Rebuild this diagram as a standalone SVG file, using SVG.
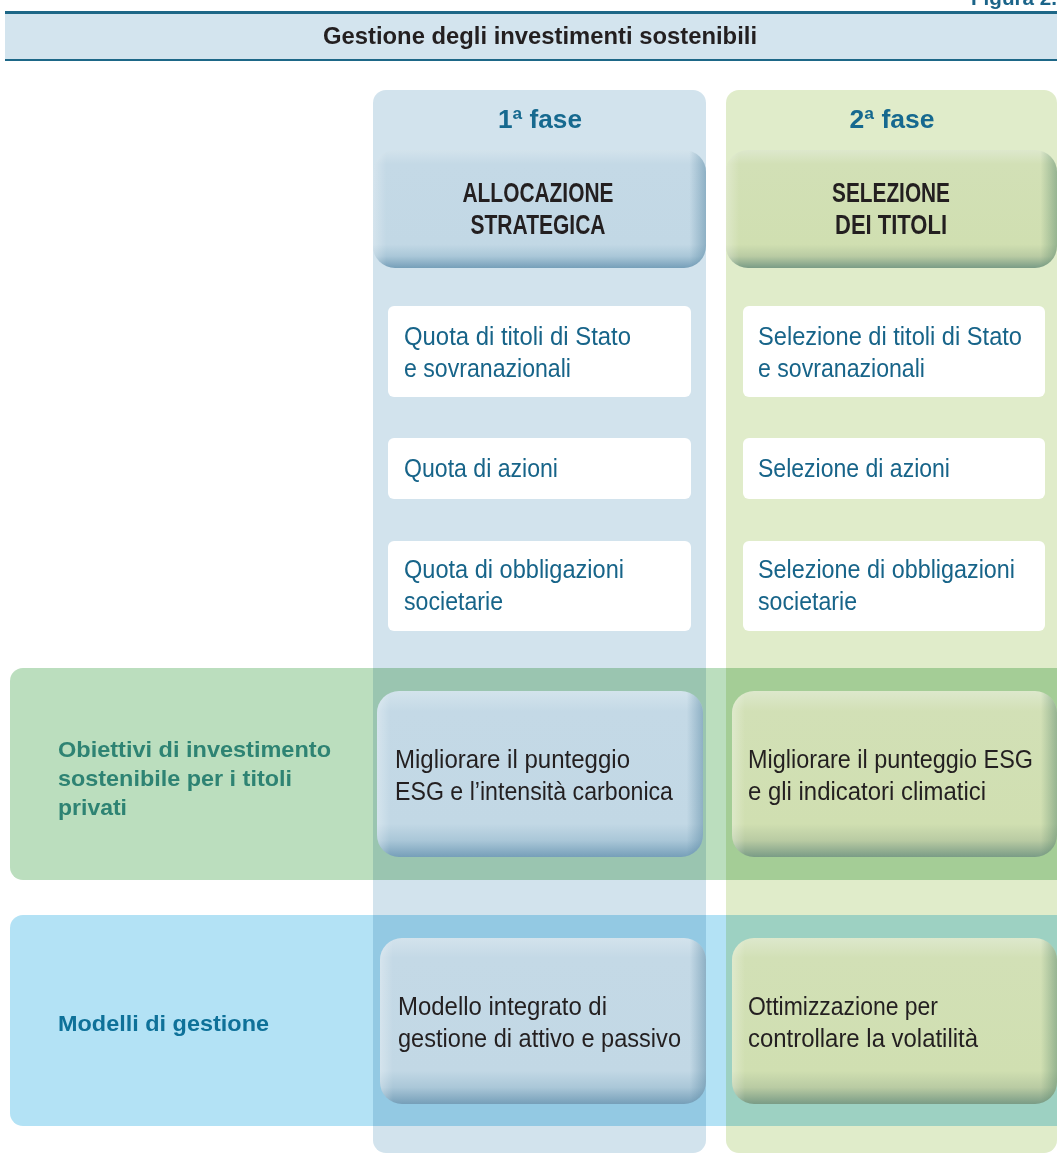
<svg xmlns="http://www.w3.org/2000/svg" width="1057" height="1176" viewBox="0 0 1057 1176">
<defs>
<linearGradient id="bV" x1="0" y1="0" x2="0" y2="1">
<stop offset="0" stop-color="#d3e3ec"/>
<stop offset="0.12" stop-color="#c4d9e6"/>
<stop offset="0.8" stop-color="#c2d8e5"/>
<stop offset="0.9" stop-color="#aac7d8"/>
<stop offset="1" stop-color="#769fb9"/>
</linearGradient>
<linearGradient id="gV" x1="0" y1="0" x2="0" y2="1">
<stop offset="0" stop-color="#dde8cc"/>
<stop offset="0.12" stop-color="#d2e0b6"/>
<stop offset="0.8" stop-color="#d0dfb1"/>
<stop offset="0.9" stop-color="#b9cba3"/>
<stop offset="1" stop-color="#7a9c86"/>
</linearGradient>
<linearGradient id="bH" x1="0" y1="0" x2="1" y2="0">
<stop offset="0" stop-color="#ffffff" stop-opacity="0.3"/>
<stop offset="0.04" stop-color="#ffffff" stop-opacity="0"/>
<stop offset="0.95" stop-color="#4d7f9c" stop-opacity="0"/>
<stop offset="1" stop-color="#4d7f9c" stop-opacity="0.45"/>
</linearGradient>
<linearGradient id="gH" x1="0" y1="0" x2="1" y2="0">
<stop offset="0" stop-color="#ffffff" stop-opacity="0.3"/>
<stop offset="0.04" stop-color="#ffffff" stop-opacity="0"/>
<stop offset="0.95" stop-color="#4f7f66" stop-opacity="0"/>
<stop offset="1" stop-color="#4f7f66" stop-opacity="0.45"/>
</linearGradient>
</defs>
<style>
.sans{font-family:"Liberation Sans",Arial,sans-serif;font-weight:bold}
.cond{font-family:"Liberation Sans Narrow","Liberation Sans",Arial,sans-serif}
.wbox{fill:#ffffff}
.wtxt{fill:#176489;font-size:25px}
.dtxt{fill:#231f20;font-size:25px}
.htxt{fill:#231f20;font-size:27px;font-weight:bold}
.fase{fill:#16698f;font-size:25px}
.lab{font-size:22.5px}
.mul{mix-blend-mode:multiply}
</style>
<rect width="1057" height="1176" fill="#ffffff"/>

<g id="header">
<text class="sans" x="971" y="5" font-size="20" fill="#1b6489" textLength="86" lengthAdjust="spacingAndGlyphs">Figura 2.</text>
<rect x="5" y="13" width="1052" height="47" fill="#d3e4ee"/>
<rect x="5" y="11" width="1052" height="3" fill="#1d6787"/>
<rect x="5" y="59" width="1052" height="2" fill="#1d6787"/>
<text class="sans" x="540" y="44" font-size="23" fill="#231f20" text-anchor="middle" textLength="434" lengthAdjust="spacingAndGlyphs">Gestione degli investimenti sostenibili</text>
</g>

<g id="column-1">
<rect x="373" y="90" width="333" height="1063" rx="13" fill="#d2e3ed"/>
<text class="sans fase" x="540" y="128" text-anchor="middle" textLength="84" lengthAdjust="spacingAndGlyphs">1ª fase</text>
</g>
<g id="column-2">
<rect x="726" y="90" width="331" height="1063" rx="13" fill="#e0ecca"/>
<text class="sans fase" x="892" y="128" text-anchor="middle" textLength="85" lengthAdjust="spacingAndGlyphs">2ª fase</text>
</g>

<g id="band-obiettivi">
<rect class="mul" x="10" y="668" width="1070" height="212" rx="13" fill="#bbdebe"/>
<text class="sans lab" fill="#2e8373" x="58" y="757" textLength="273" lengthAdjust="spacingAndGlyphs">Obiettivi di investimento</text>
<text class="sans lab" fill="#2e8373" x="58" y="786" textLength="234" lengthAdjust="spacingAndGlyphs">sostenibile per i titoli</text>
<text class="sans lab" fill="#2e8373" x="58" y="815" textLength="69" lengthAdjust="spacingAndGlyphs">privati</text>
</g>
<g id="band-modelli">
<rect class="mul" x="10" y="915" width="1070" height="211" rx="13" fill="#b3e2f5"/>
<text class="sans lab" fill="#0e7199" x="58" y="1031" textLength="211" lengthAdjust="spacingAndGlyphs">Modelli di gestione</text>
</g>

<g id="allocazione-strategica">
<rect x="373" y="150" width="333" height="118" rx="22" fill="url(#bV)"/>
<rect x="373" y="150" width="333" height="118" rx="22" fill="url(#bH)"/>
<text class="cond htxt" x="538" y="202" text-anchor="middle" textLength="151" lengthAdjust="spacingAndGlyphs">ALLOCAZIONE</text>
<text class="cond htxt" x="538" y="234" text-anchor="middle" textLength="135" lengthAdjust="spacingAndGlyphs">STRATEGICA</text>
</g>
<g id="selezione-dei-titoli">
<rect x="726" y="150" width="331" height="118" rx="22" fill="url(#gV)"/>
<rect x="726" y="150" width="331" height="118" rx="22" fill="url(#gH)"/>
<text class="cond htxt" x="891" y="202" text-anchor="middle" textLength="118" lengthAdjust="spacingAndGlyphs">SELEZIONE</text>
<text class="cond htxt" x="891" y="234" text-anchor="middle" textLength="112" lengthAdjust="spacingAndGlyphs">DEI TITOLI</text>
</g>

<g id="quota-titoli-stato">
<rect class="wbox" x="388" y="306" width="303" height="91" rx="6"/>
<text class="cond wtxt" x="404" y="345" textLength="227" lengthAdjust="spacingAndGlyphs">Quota di titoli di Stato</text>
<text class="cond wtxt" x="404" y="377" textLength="167" lengthAdjust="spacingAndGlyphs">e sovranazionali</text>
</g>
<g id="quota-azioni">
<rect class="wbox" x="388" y="438" width="303" height="61" rx="6"/>
<text class="cond wtxt" x="404" y="477" textLength="154" lengthAdjust="spacingAndGlyphs">Quota di azioni</text>
</g>
<g id="quota-obbligazioni">
<rect class="wbox" x="388" y="541" width="303" height="90" rx="6"/>
<text class="cond wtxt" x="404" y="578" textLength="220" lengthAdjust="spacingAndGlyphs">Quota di obbligazioni</text>
<text class="cond wtxt" x="404" y="610" textLength="99" lengthAdjust="spacingAndGlyphs">societarie</text>
</g>
<g id="selezione-titoli-stato">
<rect class="wbox" x="743" y="306" width="302" height="91" rx="6"/>
<text class="cond wtxt" x="758" y="345" textLength="264" lengthAdjust="spacingAndGlyphs">Selezione di titoli di Stato</text>
<text class="cond wtxt" x="758" y="377" textLength="167" lengthAdjust="spacingAndGlyphs">e sovranazionali</text>
</g>
<g id="selezione-azioni">
<rect class="wbox" x="743" y="438" width="302" height="61" rx="6"/>
<text class="cond wtxt" x="758" y="477" textLength="192" lengthAdjust="spacingAndGlyphs">Selezione di azioni</text>
</g>
<g id="selezione-obbligazioni">
<rect class="wbox" x="743" y="541" width="302" height="90" rx="6"/>
<text class="cond wtxt" x="758" y="578" textLength="257" lengthAdjust="spacingAndGlyphs">Selezione di obbligazioni</text>
<text class="cond wtxt" x="758" y="610" textLength="99" lengthAdjust="spacingAndGlyphs">societarie</text>
</g>

<g id="migliorare-esg-carbonica">
<rect x="377" y="691" width="326" height="166" rx="22" fill="url(#bV)"/>
<rect x="377" y="691" width="326" height="166" rx="22" fill="url(#bH)"/>
<text class="cond dtxt" x="395" y="768" textLength="235" lengthAdjust="spacingAndGlyphs">Migliorare il punteggio</text>
<text class="cond dtxt" x="395" y="800" textLength="278" lengthAdjust="spacingAndGlyphs">ESG e l’intensità carbonica</text>
</g>
<g id="migliorare-esg-climatici">
<rect x="732" y="691" width="325" height="166" rx="22" fill="url(#gV)"/>
<rect x="732" y="691" width="325" height="166" rx="22" fill="url(#gH)"/>
<text class="cond dtxt" x="748" y="768" textLength="285" lengthAdjust="spacingAndGlyphs">Migliorare il punteggio ESG</text>
<text class="cond dtxt" x="748" y="800" textLength="238" lengthAdjust="spacingAndGlyphs">e gli indicatori climatici</text>
</g>
<g id="modello-integrato">
<rect x="380" y="938" width="326" height="166" rx="22" fill="url(#bV)"/>
<rect x="380" y="938" width="326" height="166" rx="22" fill="url(#bH)"/>
<text class="cond dtxt" x="398" y="1015" textLength="209" lengthAdjust="spacingAndGlyphs">Modello integrato di</text>
<text class="cond dtxt" x="398" y="1047" textLength="283" lengthAdjust="spacingAndGlyphs">gestione di attivo e passivo</text>
</g>
<g id="ottimizzazione-volatilita">
<rect x="732" y="938" width="325" height="166" rx="22" fill="url(#gV)"/>
<rect x="732" y="938" width="325" height="166" rx="22" fill="url(#gH)"/>
<text class="cond dtxt" x="748" y="1015" textLength="190" lengthAdjust="spacingAndGlyphs">Ottimizzazione per</text>
<text class="cond dtxt" x="748" y="1047" textLength="230" lengthAdjust="spacingAndGlyphs">controllare la volatilità</text>
</g>

<g id="connectors"/>
</svg>
